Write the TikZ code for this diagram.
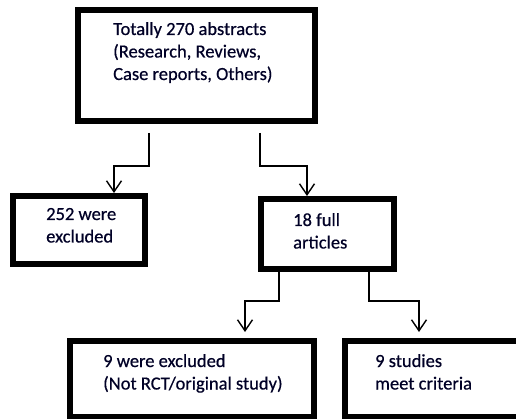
\documentclass[tikz,border=0pt]{standalone}
\usepackage{fontspec}
\setmainfont{Carlito}
\newfontfamily\boxtextfont[FakeBold=0.5]{Carlito}
\usetikzlibrary{arrows.meta}
\begin{document}
\begin{tikzpicture}[x=1pt,y=-1pt,
  box/.style={draw=black, line width=6pt, inner sep=0pt, fill=white},
  conn/.style={draw=black, line width=1.5pt, -{Straight Barb[length=11pt,width=15pt,line width=1.4pt]}},
  txt/.style={anchor=base west, inner sep=0pt, text=black!85!blue,
    font=\boxtextfont\fontsize{18.5}{22.5}\selectfont}]
\useasboundingbox (0,0) rectangle (516,419);
\clip (0,0) rectangle (516,419);
\fill[white] (0,0) rectangle (516,419);
% boxes
\node[box, minimum width=237pt, minimum height=111pt] (top) at (196.5,65.5) {};
\node[box, minimum width=132pt, minimum height=68pt] (exA) at (79,230) {};
\node[box, minimum width=133pt, minimum height=70pt] (full) at (327.5,234) {};
\node[box, minimum width=244pt, minimum height=76pt] (exB) at (192,379) {};
\node[box, minimum width=195pt, minimum height=76pt] (meet) at (442.5,379) {};
% texts
\node[txt] (ttop) at (113,35) {\begin{tabular}[t]{@{}l@{}}Totally 270 abstracts\\(Research, Reviews,\\Case reports, Others)\end{tabular}};
\node[txt] (texA) at (46,220) {\begin{tabular}[t]{@{}l@{}}252 were\\excluded\end{tabular}};
\node[txt] (tfull) at (293,226) {\begin{tabular}[t]{@{}l@{}}18 full\\articles\end{tabular}};
\node[txt] (texB) at (103,367) {\begin{tabular}[t]{@{}l@{}}9 were excluded\\(Not RCT/original study)\end{tabular}};
\node[txt] (tmeet) at (375,367) {\begin{tabular}[t]{@{}l@{}}9 studies\\meet criteria\end{tabular}};
% connectors
\draw[conn] ([xshift=-47.5pt,yshift=-9pt]top.south) -- ++(0,33) -| ([xshift=35pt]exA.north);
\draw[conn] ([xshift=63.5pt,yshift=-9pt]top.south) -- ++(0,33) -| ([xshift=-20.5pt]full.north);
\draw[conn] ([xshift=-48.5pt]full.south) -- ++(0,29) -| ([xshift=53pt,yshift=6pt]exB.north);
\draw[conn] ([xshift=41.5pt]full.south) -- ++(0,29) -| ([xshift=-23.5pt,yshift=6pt]meet.north);
\end{tikzpicture}
\end{document}
